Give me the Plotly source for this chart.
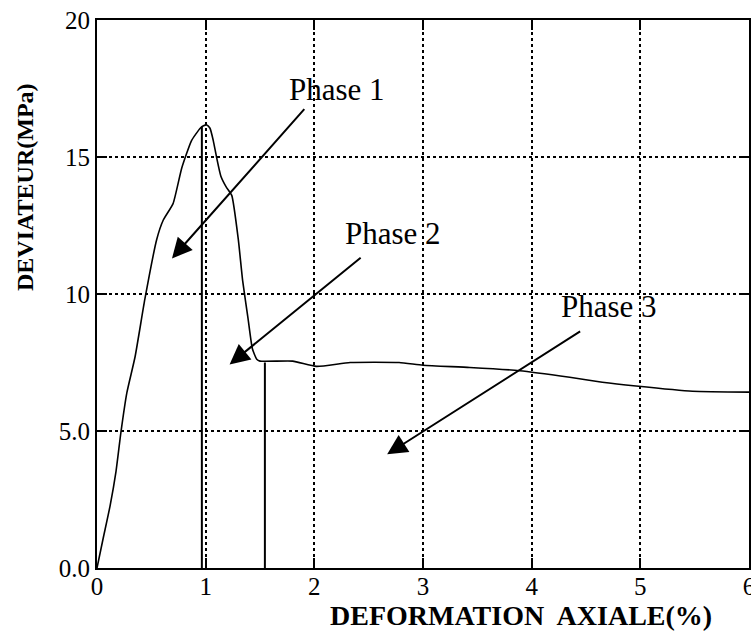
import plotly.graph_objects as go

# Stress-strain curve (axial strain %, deviator stress MPa)
strain = [0, 0.055, 0.12, 0.175, 0.22, 0.275, 0.35, 0.44, 0.55, 0.61, 0.70, 0.78,
          0.87, 0.95, 0.98, 1.01, 1.04, 1.07, 1.10, 1.14, 1.19, 1.24, 1.30, 1.34,
          1.39, 1.43, 1.47, 1.50,
          1.80, 2.02, 2.33, 2.78, 3.0, 3.43, 3.89, 4.35, 4.65, 4.96, 5.48, 6.0]
deviator = [0, 1.05, 2.26, 3.53, 4.95, 6.4, 7.7, 9.8, 12.0, 12.7, 13.3, 14.6,
            15.6, 16.05, 16.14, 16.17, 16.05, 15.6, 15.0, 14.3, 13.9, 13.6, 12.0, 10.5,
            9.1, 8.0, 7.62, 7.55,
            7.55, 7.36, 7.5, 7.5, 7.4, 7.32, 7.2, 6.96, 6.78, 6.64, 6.45, 6.42]

# Phase boundary markers
boundary_x = [0.965, 1.545]
boundary_top = [16.1, 7.5]

# Phase labels and arrows (text pos, arrow tail, arrow head)
phase_labels = ["Phase 1", "Phase 2", "Phase 3"]
label_x = [2.21, 2.72, 4.71]
label_y = [17.45, 12.2, 9.54]
tail_x = [1.92, 2.44, 4.46]
tail_y = [16.8, 11.37, 8.67]
head_x = [0.69, 1.22, 2.67]
head_y = [11.3, 7.43, 4.15]

x_ticks = [0, 1, 2, 3, 4, 5, 6]
y_ticks = [0, 5, 10, 15, 20]
y_ticktext = ["0.0", "5.0", "10", "15", "20"]

FONT = "Liberation Serif, Times New Roman, serif"

fig = go.Figure()
fig.add_trace(go.Scatter(x=strain, y=deviator, mode="lines",
                         line=dict(color="black", width=1.6, shape="spline", smoothing=0.5),
                         showlegend=False, hoverinfo="skip"))
for bx, bt in zip(boundary_x, boundary_top):
    fig.add_trace(go.Scatter(x=[bx, bx], y=[0, bt], mode="lines",
                             line=dict(color="black", width=2),
                             showlegend=False, hoverinfo="skip"))

for t, lx, ly, tx, ty, hx, hy in zip(phase_labels, label_x, label_y, tail_x, tail_y, head_x, head_y):
    fig.add_annotation(x=lx, y=ly, text=t, showarrow=False,
                       font=dict(family=FONT, size=31, color="black"))
    fig.add_annotation(x=hx, y=hy, ax=tx, ay=ty, xref="x", yref="y", axref="x", ayref="y",
                       text="", showarrow=True, arrowhead=2, arrowsize=2,
                       arrowwidth=2, arrowcolor="black", standoff=0)

W, H = 751, 640
ml, mr, mt, mb = 97, 2, 20, 72

title_specs = [
    dict(px=521, py=615, text="<b>DEFORMATION  AXIALE(%)</b>", size=28, angle=0),
    dict(px=25, py=187, text="<b>DEVIATEUR(MPa)</b>", size=24, angle=-90),
]
for s in title_specs:
    fig.add_annotation(x=(s["px"] - ml) / (W - ml - mr), y=1 - (s["py"] - mt) / (H - mt - mb),
                       xref="paper", yref="paper", xanchor="center", yanchor="middle",
                       text=s["text"], showarrow=False, textangle=s["angle"],
                       font=dict(family=FONT, size=s["size"], color="black"))

axis_common = dict(showline=True, linecolor="black", linewidth=2, mirror="ticks",
                   ticks="inside", ticklen=10, tickwidth=2, tickcolor="black",
                   showgrid=True, gridcolor="black", gridwidth=1.5, griddash="dot",
                   zeroline=False, ticklabeloverflow="allow", automargin=False,
                   tickfont=dict(family=FONT, size=25, color="black"))

fig.update_xaxes(range=[0, 6], tickvals=x_ticks, ticklabelstandoff=-5, **axis_common)
fig.update_yaxes(range=[0, 20], tickvals=y_ticks, ticktext=y_ticktext, **axis_common)

fig.update_layout(width=W, height=H, margin=dict(l=ml, r=mr, t=mt, b=mb),
                  paper_bgcolor="white", plot_bgcolor="white")

fig.write_html("out.html", config={"displayModeBar": False},
               post_script="document.body.style.margin='0';document.body.style.overflow='hidden';")
